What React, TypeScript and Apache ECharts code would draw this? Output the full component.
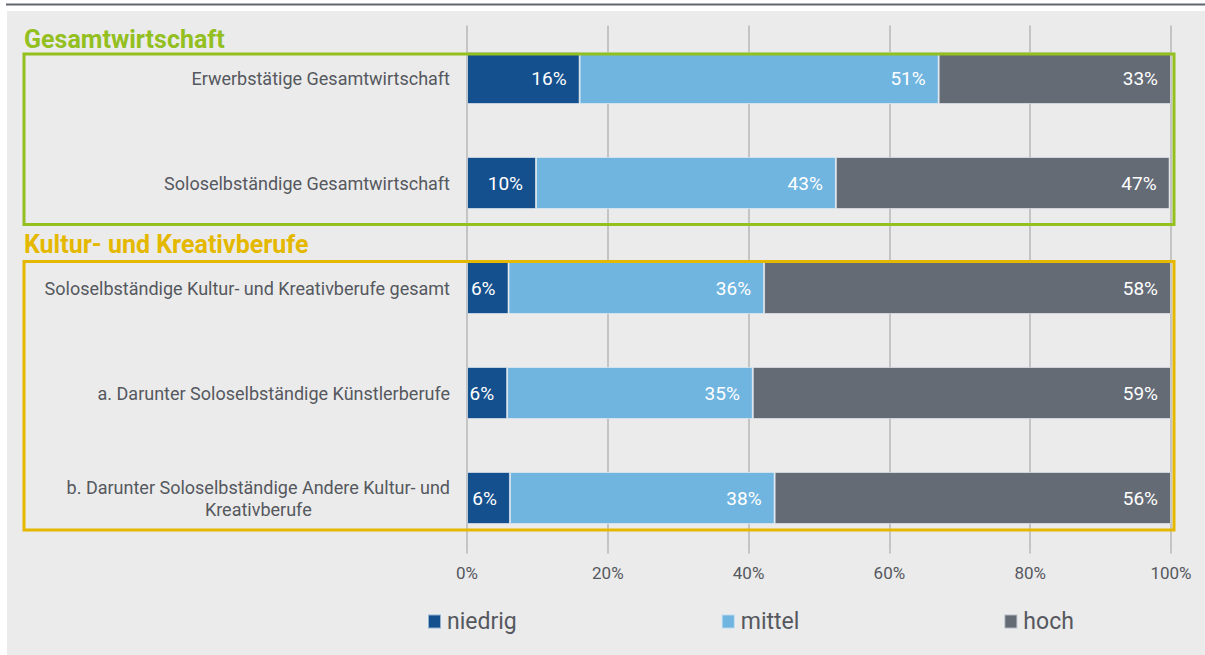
import React, { useEffect, useRef } from "react";
import * as echarts from "echarts";

const categories = [
  "Erwerbstätige Gesamtwirtschaft",
  "Soloselbständige Gesamtwirtschaft",
  "Soloselbständige Kultur- und Kreativberufe gesamt",
  "a. Darunter Soloselbständige Künstlerberufe",
  "b. Darunter Soloselbständige Andere Kultur- und\nKreativberufe",
];
const seriesNames = ["niedrig", "mittel", "hoch"];
const niedrig = [16, 9.8, 5.9, 5.7, 6.1];
const mittel = [51, 42.6, 36.3, 34.9, 37.6];
const hoch = [33, 47.4, 57.8, 59.4, 56.3];
const tickValues = [0, 20, 40, 60, 80, 100];
const sectionTitles = ["Gesamtwirtschaft", "Kultur- und Kreativberufe"];

const colors = ["#15508e", "#6fb5e0", "#646b75"];
const FONT = "Roboto, 'Liberation Sans', Arial, sans-serif";
const LABEL_COLOR = "#55585e";
const GREEN = "#93bf1f";
const GOLD = "#e5b800";

export default function App() {
  const ref = useRef<HTMLDivElement>(null);
  useEffect(() => {
    if (!ref.current) return;
    const chart = echarts.init(ref.current, null, { renderer: "svg" });
    const values = [niedrig, mittel, hoch];
    const option: any = {
      animation: false,
      backgroundColor: "#ffffff",
      textStyle: { fontFamily: FONT },
      grid: { left: 467, width: 704, top: 25.5, height: 525, containLabel: false },
      xAxis: {
        type: "value",
        min: tickValues[0],
        max: tickValues[tickValues.length - 1],
        interval: 20,
        axisLine: { show: false },
        axisTick: { show: true, length: 3, lineStyle: { color: "#c4c4c4", width: 2 } },
        splitLine: { show: true, lineStyle: { color: "#c4c4c4", width: 2 } },
        axisLabel: {
          formatter: "{value}%",
          color: LABEL_COLOR,
          fontSize: 17,
          fontFamily: FONT,
          margin: 14,
        },
      },
      yAxis: {
        type: "category",
        inverse: true,
        data: categories,
        axisLine: { show: false },
        axisTick: { show: false },
        axisLabel: {
          color: LABEL_COLOR,
          fontSize: 18,
          fontFamily: FONT,
          margin: 17,
          lineHeight: 22,
          formatter: (v: string) =>
            v.indexOf("\n") >= 0
              ? v
                  .split("\n")
                  .map((l) => `{c|${l}}`)
                  .join("\n")
              : v,
          rich: {
            c: {
              align: "center",
              fontSize: 18,
              fontFamily: FONT,
              color: LABEL_COLOR,
              lineHeight: 22,
            },
          },
        },
      },
      legend: {
        data: seriesNames,
        left: 427,
        top: 610,
        padding: 0,
        itemWidth: 13,
        itemHeight: 14,
        itemGap: 204,
        icon: "rect",
        textStyle: { color: LABEL_COLOR, fontSize: 23, fontFamily: FONT, padding: [0, 0, 0, 1] },
      },
      graphic: [
        {
          type: "rect",
          z: -10,
          silent: true,
          shape: { x: 7, y: 11, width: 1198, height: 644 },
          style: { fill: "#ebebeb" },
        },
        {
          type: "line",
          z: 10,
          silent: true,
          shape: { x1: 6, y1: 4.5, x2: 1205, y2: 4.5 },
          style: { stroke: "#5f6670", lineWidth: 2 },
        },
        {
          type: "text",
          z: 10,
          left: 24,
          top: 27,
          style: {
            text: sectionTitles[0],
            fill: GREEN,
            font: `bold 25px ${FONT}`,
          },
        },
        {
          type: "rect",
          z: 100,
          silent: true,
          shape: { x: 24, y: 54, width: 1150, height: 170.5 },
          style: { fill: "none", stroke: GREEN, lineWidth: 3 },
        },
        {
          type: "text",
          z: 10,
          left: 24,
          top: 232,
          style: {
            text: sectionTitles[1],
            fill: GOLD,
            font: `bold 25px ${FONT}`,
          },
        },
        {
          type: "rect",
          z: 100,
          silent: true,
          shape: { x: 24, y: 261.5, width: 1150, height: 268.5 },
          style: { fill: "none", stroke: GOLD, lineWidth: 3 },
        },
      ],
      series: seriesNames.map((name, i) => ({
        name,
        type: "bar",
        stack: "total",
        barWidth: 52,
        data: values[i],
        itemStyle: {
          color: colors[i],
          borderColor: "rgba(235,240,245,0.6)",
          borderWidth: 1,
        },
        label: {
          show: true,
          position: "insideRight",
          distance: 13,
          color: "#ffffff",
          fontSize: 19,
          fontFamily: FONT,
          formatter: (p: any) => `${Math.round(p.value)}%`,
        },
      })),
      color: colors,
    };
    chart.setOption(option);
    return () => chart.dispose();
  }, []);
  return (
    <div
      ref={ref}
      style={{ position: "absolute", left: 0, top: 0, width: 1205, height: 655 }}
    />
  );
}
